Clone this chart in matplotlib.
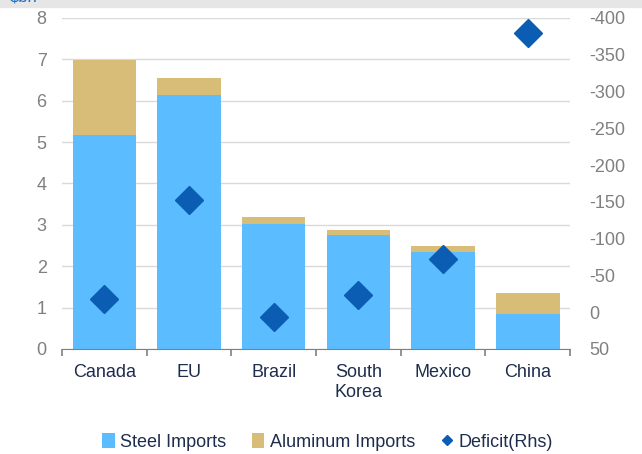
import numpy as np
import matplotlib.pyplot as plt
from matplotlib.patches import Rectangle

plt.rcParams['font.family'] = ['Liberation Sans', 'DejaVu Sans']
plt.rcParams['axes.unicode_minus'] = False

countries = ['Canada', 'EU', 'Brazil', 'South\nKorea', 'Mexico', 'China']
steel = [5.17, 6.14, 3.02, 2.75, 2.34, 0.85]
aluminum = [1.81, 0.41, 0.17, 0.12, 0.15, 0.50]
deficit = [-18, -152, 7, -24, -72, -379]

left_ticks = [0, 1, 2, 3, 4, 5, 6, 7, 8]
right_ticks = [-400, -350, -300, -250, -200, -150, -100, -50, 0, 50]

steel_color = '#5BBDFF'
alu_color = '#D8BD78'
def_color = '#0B5DB3'
tick_gray = '#808080'
label_navy = '#1F2D4D'

fig = plt.figure(figsize=(6.42, 4.54), dpi=100)
ax = fig.add_axes([0.0966, 0.2313, 0.7914, 0.7291])

x = np.arange(len(countries))
ax.bar(x, steel, width=0.75, color=steel_color, label='Steel Imports', zorder=2)
ax.bar(x, aluminum, width=0.75, bottom=steel, color=alu_color, label='Aluminum Imports', zorder=2)

ax.set_xlim(-0.5, len(countries) - 0.5)
ax.set_ylim(0, 8)
ax.set_yticks(left_ticks)
ax.yaxis.grid(True, color='#d9d9d9', linewidth=1.0, zorder=0)
ax.set_axisbelow(True)
for s in ['top', 'right', 'left']:
    ax.spines[s].set_visible(False)
ax.spines['bottom'].set_color(tick_gray)
ax.tick_params(axis='y', length=0, labelsize=13, labelcolor=tick_gray, pad=11)
ax.set_xticks(x)
ax.set_xticklabels(countries, fontsize=13, color=label_navy)
ax.tick_params(axis='x', which='major', length=0, pad=11)
ax.set_xticks(np.arange(-0.5, len(countries)), minor=True)
ax.tick_params(axis='x', which='minor', length=5, color=tick_gray, width=1.2)

ax2 = ax.twinx()
ax2.plot(x, deficit, linestyle='none', marker='D', markersize=14,
         color=def_color, label='Deficit(Rhs)', zorder=3)
ax2.set_ylim(50, -400)
ax2.set_yticks(right_ticks)
ax2.set_yticklabels([str(v) for v in right_ticks])
ax2.tick_params(axis='y', length=0, labelsize=13, labelcolor=tick_gray, pad=14)
for s in ['top', 'right', 'left', 'bottom']:
    ax2.spines[s].set_visible(False)

h1, l1 = ax.get_legend_handles_labels()
h2, l2 = ax2.get_legend_handles_labels()
leg = fig.legend(h1 + h2, l1 + l2, loc='center', bbox_to_anchor=(0.51, 0.027),
                 ncol=3, frameon=False, fontsize=13, handlelength=0.7,
                 handleheight=0.9, handletextpad=0.3, columnspacing=1.4,
                 markerscale=0.38)
for t in leg.get_texts():
    t.set_color(label_navy)

# grey header strip with clipped unit label
fig.patches.append(Rectangle((0, 1 - 7 / 454), 1, 7 / 454, transform=fig.transFigure,
                             color='#e6e6e6', zorder=0))
fig.text(0.015, 1.006, '\\$bn', color='#1F6FC5', fontsize=12, va='center', ha='left')

fig.savefig('out.png', dpi=100)
